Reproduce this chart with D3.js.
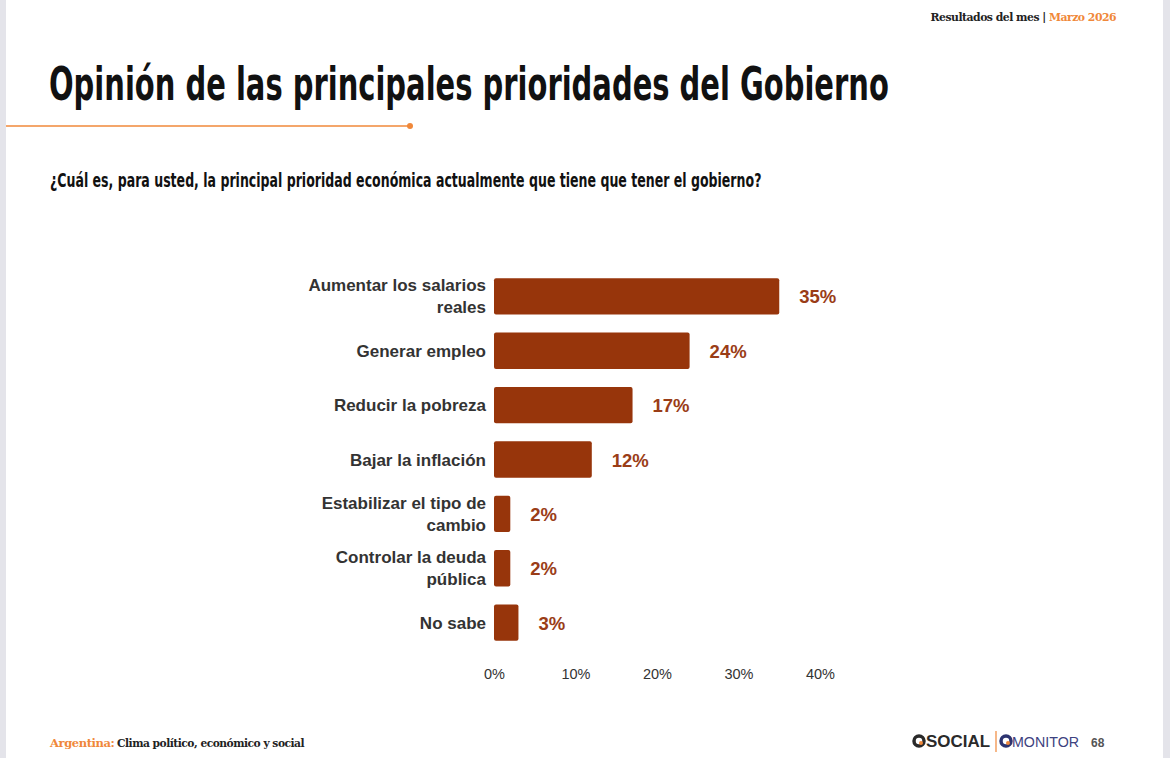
<!DOCTYPE html>
<html>
<head>
<meta charset="utf-8">
<script src="https://cdn.jsdelivr.net/npm/d3@7"></script>
<style>
  body { margin: 0; background: #fff; }
  svg { display: block; }
</style>
</head>
<body>
<svg id="slide" width="1170" height="758"></svg>
<script>
// datos del gráfico
const categorias = [
    ["Aumentar los salarios", "reales"],
    ["Generar empleo"],
    ["Reducir la pobreza"],
    ["Bajar la inflación"],
    ["Estabilizar el tipo de", "cambio"],
    ["Controlar la deuda", "pública"],
    ["No sabe"]
];
const valores = [35, 24, 17, 12, 2, 2, 3];
const ticks = [0, 10, 20, 30, 40];

const naranja = "#f0883a";
const barraColor = "#97350b";

const svg = d3.select("#slide");

// bordes grises de la captura
svg.append("rect").attr("x", 0).attr("y", 0).attr("width", 6).attr("height", 758).style("fill", "#e4e4ea");
svg.append("rect").attr("x", 1163).attr("y", 0).attr("width", 7).attr("height", 758).style("fill", "#e4e4ea");

// ajusta el tamaño de letra para que el texto ocupe un ancho dado
function ajustarAncho(sel, ancho) {
    const base = parseFloat(sel.style("font-size"));
    const w = sel.node().getComputedTextLength();
    sel.style("font-size", (base * ancho / w) + "px");
}

// texto condensado: se estrecha en horizontal hasta el ancho pedido
function textoCondensado(px, py, ancho, tam, texto) {
    const g = svg.append("g");
    const t = g.append("text")
        .attr("x", 0).attr("y", 0)
        .style("font-family", "'DejaVu Sans', sans-serif")
        .style("font-weight", "bold")
        .style("font-size", tam + "px")
        .style("fill", "#111")
        .text(texto);
    const w = t.node().getComputedTextLength();
    g.attr("transform", `translate(${px},${py}) scale(${ancho / w},1)`);
    return t;
}

// cabecera
const cab = svg.append("text")
    .attr("x", 1116).attr("y", 21)
    .attr("text-anchor", "end")
    .style("font-family", "'DejaVu Serif', serif")
    .style("font-weight", "bold")
    .style("font-size", "11px")
    .style("letter-spacing", "-0.5px");
cab.append("tspan").style("fill", "#222").text("Resultados del mes | ");
cab.append("tspan").style("fill", naranja).text("Marzo  2026");
ajustarAncho(cab, 186);

// título
textoCondensado(49, 100, 840, 47, "Opinión de las principales prioridades del Gobierno");

svg.append("line")
    .attr("x1", 6).attr("x2", 410).attr("y1", 126).attr("y2", 126)
    .style("stroke", naranja).style("stroke-width", 1.5);
svg.append("circle").attr("cx", 410).attr("cy", 126).attr("r", 3).style("fill", naranja);

// pregunta
textoCondensado(50, 187, 712, 19, "¿Cuál es, para usted, la principal prioridad económica actualmente que tiene que tener el gobierno?");

// escalas
const x = d3.scaleLinear().domain([0, 40]).range([494, 820]);
const y = d3.scaleBand().domain(d3.range(valores.length)).range([270, 649]).paddingInner(0.33).paddingOuter(0.15);

const chart = svg.append("g");

chart.selectAll(".barra")
    .data(valores)
    .enter()
    .append("rect")
    .attr("class", "barra")
    .attr("x", x(0))
    .attr("y", (d, i) => y(i))
    .attr("width", (d) => x(d) - x(0))
    .attr("height", y.bandwidth())
    .attr("rx", 2)
    .style("fill", barraColor);

chart.selectAll(".valor")
    .data(valores)
    .enter()
    .append("text")
    .attr("class", "valor")
    .attr("x", (d) => x(d) + 20)
    .attr("y", (d, i) => y(i) + y.bandwidth() / 2 + 7)
    .style("font-family", "'Liberation Sans', Arial, sans-serif")
    .style("font-weight", "bold")
    .style("font-size", "18.5px")
    .style("fill", "#9a3d17")
    .text((d) => d + "%");

// etiquetas de categorías
const etiquetas = chart.selectAll(".cat")
    .data(categorias)
    .enter()
    .append("text")
    .attr("class", "cat")
    .attr("text-anchor", "end")
    .attr("x", 486)
    .attr("y", (d, i) => y(i) + y.bandwidth() / 2 + 6 - (d.length - 1) * 11)
    .style("font-family", "'Liberation Sans', Arial, sans-serif")
    .style("font-weight", "bold")
    .style("font-size", "17px")
    .style("fill", "#333");

etiquetas.selectAll("tspan")
    .data((d) => d)
    .enter()
    .append("tspan")
    .attr("x", 486)
    .attr("dy", (d, i) => i === 0 ? 0 : 22)
    .text((d) => d);

// eje x
const eje = svg.append("g")
    .attr("transform", "translate(0,660)")
    .call(d3.axisBottom(x).tickValues(ticks).tickFormat((d) => d + "%").tickSize(0).tickPadding(9));
eje.select(".domain").remove();
eje.selectAll("text")
    .style("font-family", "'Liberation Sans', Arial, sans-serif")
    .style("font-size", "14.5px")
    .style("fill", "#333");

// pie
const pie = svg.append("text")
    .attr("x", 50).attr("y", 747)
    .style("font-family", "'DejaVu Serif', serif")
    .style("font-weight", "bold")
    .style("font-size", "11.5px")
    .style("letter-spacing", "-0.4px");
pie.append("tspan").style("fill", naranja).text("Argentina:");
pie.append("tspan").attr("x", 117).style("fill", "#222").style("font-size", "10.7px").style("letter-spacing", "-0.5px")
    .text("Clima político, económico y social");

// logos
const logo = svg.append("g");
logo.append("circle").attr("cx", 919).attr("cy", 741).attr("r", 5).style("fill", "none").style("stroke", "#2a2a2a").style("stroke-width", 3.5);
logo.append("circle").attr("cx", 921).attr("cy", 743).attr("r", 2).style("fill", naranja);
logo.append("text").attr("x", 926).attr("y", 747)
    .attr("textLength", 64).attr("lengthAdjust", "spacingAndGlyphs")
    .style("font-family", "'Liberation Sans', Arial, sans-serif").style("font-weight", "bold").style("font-size", "16px").style("fill", "#2a2a2a")
    .text("SOCIAL");
logo.append("line").attr("x1", 996).attr("x2", 996).attr("y1", 731).attr("y2", 752).style("stroke", naranja).style("stroke-width", 1.2);
logo.append("circle").attr("cx", 1006).attr("cy", 741).attr("r", 5).style("fill", "none").style("stroke", "#2d3470").style("stroke-width", 3.5);
logo.append("circle").attr("cx", 1008).attr("cy", 743).attr("r", 2).style("fill", naranja);
logo.append("text").attr("x", 1012).attr("y", 747)
    .attr("textLength", 67).attr("lengthAdjust", "spacingAndGlyphs")
    .style("font-family", "'Liberation Sans', Arial, sans-serif").style("font-size", "15px").style("fill", "#3d4280")
    .text("MONITOR");
logo.append("text").attr("x", 1091).attr("y", 747)
    .style("font-family", "'Liberation Sans', Arial, sans-serif").style("font-weight", "bold").style("font-size", "12px").style("fill", "#555")
    .text("68");
</script>
</body>
</html>
